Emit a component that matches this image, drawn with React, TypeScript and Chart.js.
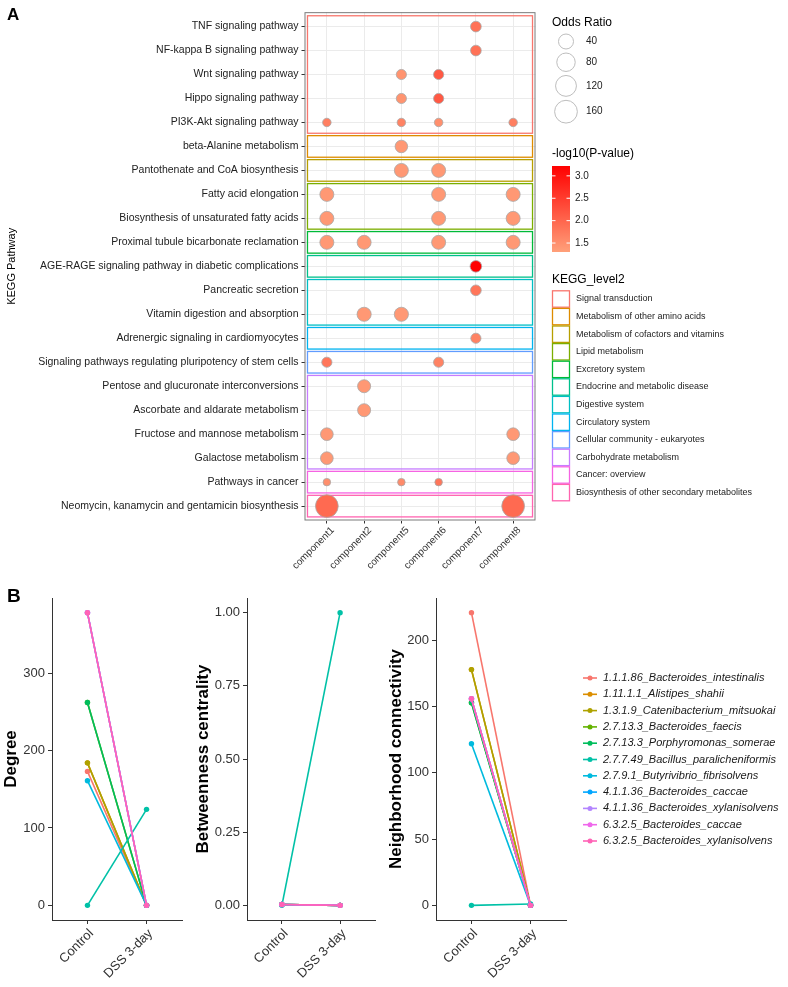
import React, { useEffect, useRef } from "react";
import { Chart, registerables } from "chart.js";
Chart.register(...registerables);

const FONT = "'Liberation Sans', Arial, Helvetica, sans-serif";
Chart.defaults.font.family = FONT;

// ---------------- Panel A data ----------------
const pathways = [
  "TNF signaling pathway",
  "NF-kappa B signaling pathway",
  "Wnt signaling pathway",
  "Hippo signaling pathway",
  "PI3K-Akt signaling pathway",
  "beta-Alanine metabolism",
  "Pantothenate and CoA biosynthesis",
  "Fatty acid elongation",
  "Biosynthesis of unsaturated fatty acids",
  "Proximal tubule bicarbonate reclamation",
  "AGE-RAGE signaling pathway in diabetic complications",
  "Pancreatic secretion",
  "Vitamin digestion and absorption",
  "Adrenergic signaling in cardiomyocytes",
  "Signaling pathways regulating pluripotency of stem cells",
  "Pentose and glucuronate interconversions",
  "Ascorbate and aldarate metabolism",
  "Fructose and mannose metabolism",
  "Galactose metabolism",
  "Pathways in cancer",
  "Neomycin, kanamycin and gentamicin biosynthesis",
];
const components = ["component1", "component2", "component5", "component6", "component7", "component8"];
const keggLevels = [
  "Signal transduction",
  "Metabolism of other amino acids",
  "Metabolism of cofactors and vitamins",
  "Lipid metabolism",
  "Excretory system",
  "Endocrine and metabolic disease",
  "Digestive system",
  "Circulatory system",
  "Cellular community - eukaryotes",
  "Carbohydrate metabolism",
  "Cancer: overview",
  "Biosynthesis of other secondary metabolites",
];
const keggLevelColors = [
  "#F8766D", "#DE8C00", "#B79F00", "#7CAE00", "#00BA38", "#00C08B",
  "#00BFC4", "#00B4F0", "#619CFF", "#C77CFF", "#F564E3", "#FF64B0",
];
const pathwayLevel = [0, 0, 0, 0, 0, 1, 2, 3, 3, 4, 5, 6, 6, 7, 8, 9, 9, 9, 9, 10, 11];

const dotPathway = [0, 1, 2, 2, 3, 3, 4, 4, 4, 4, 5, 6, 6, 7, 7, 7, 8, 8, 8, 9, 9, 9, 9, 10, 11, 12, 12, 13, 14, 14, 15, 16, 17, 17, 18, 18, 19, 19, 19, 20, 20];
const dotComponent = [4, 4, 2, 3, 2, 3, 0, 2, 3, 5, 2, 2, 3, 0, 3, 5, 0, 3, 5, 0, 1, 3, 5, 4, 4, 1, 2, 4, 0, 3, 1, 1, 0, 5, 0, 5, 0, 2, 3, 0, 5];
const dotOddsRatio = [13, 13, 11, 11, 11, 11, 6, 6, 6, 6, 22, 32, 32, 32, 32, 32, 32, 32, 32, 32, 32, 32, 32, 17, 13, 33, 33, 11, 11, 11, 25, 25, 23, 23, 23, 23, 4, 4, 4, 160, 160];
const dotLogP = [1.85, 1.85, 1.45, 2.15, 1.45, 2.15, 1.7, 1.65, 1.5, 1.7, 1.4, 1.4, 1.4, 1.4, 1.4, 1.4, 1.4, 1.4, 1.4, 1.4, 1.4, 1.4, 1.4, 3.22, 1.8, 1.4, 1.4, 1.65, 1.8, 1.65, 1.4, 1.4, 1.4, 1.4, 1.4, 1.4, 1.5, 1.55, 1.8, 1.95, 1.95];

const oddsLegendValues = [40, 80, 120, 160];
const pLegendTicks = [1.5, 2.0, 2.5, 3.0];
const pScaleMin = 1.3;
const pScaleMax = 3.22;

// ---------------- Panel B data ----------------
const groups = ["Control", "DSS 3-day"];
const species = [
  "1.1.1.86_Bacteroides_intestinalis",
  "1.11.1.1_Alistipes_shahii",
  "1.3.1.9_Catenibacterium_mitsuokai",
  "2.7.13.3_Bacteroides_faecis",
  "2.7.13.3_Porphyromonas_somerae",
  "2.7.7.49_Bacillus_paralicheniformis",
  "2.7.9.1_Butyrivibrio_fibrisolvens",
  "4.1.1.36_Bacteroides_caccae",
  "4.1.1.36_Bacteroides_xylanisolvens",
  "6.3.2.5_Bacteroides_caccae",
  "6.3.2.5_Bacteroides_xylanisolvens",
];
const speciesColors = [
  "#F8766D", "#DB8E00", "#AEA200", "#64B200", "#00BD5C", "#00C1A7",
  "#00BADE", "#00A6FF", "#B385FF", "#EF67EB", "#FF63B6",
];
const degreeControl = [173, 184, 184, 262, 262, 0, 161, 378, 378, 378, 378];
const degreeDSS = [0, 0, 0, 0, 0, 124, 0, 0, 0, 0, 0];
const betweenControl = [0.003, 0.003, 0.003, 0.003, 0.003, 0, 0.003, 0.003, 0.003, 0.003, 0.003];
const betweenDSS = [0, 0, 0, 0, 0, 1, 0, 0, 0, 0, 0];
const nbrControl = [221, 178, 178, 153, 153, 0, 122, 156, 156, 156, 156];
const nbrDSS = [0, 0, 0, 0, 0, 1, 0, 0, 0, 0, 0];
const degreeTicks = [0, 100, 200, 300];
const betweenTicks = [0, 0.25, 0.5, 0.75, 1];
const nbrTicks = [0, 50, 100, 150, 200];

// ---------------- helpers ----------------
const LOW_RGB = [255, 160, 122];
const HIGH_RGB = [255, 0, 0];
function pColor(v: number) {
  const t = Math.max(0, Math.min(1, (v - pScaleMin) / (pScaleMax - pScaleMin)));
  const c = LOW_RGB.map((l, k) => Math.round(l + (HIGH_RGB[k] - l) * t));
  return `rgb(${c[0]},${c[1]},${c[2]})`;
}
function orRadius(or: number) {
  return 7.5 * Math.pow(or / 40, 0.3);
}

const boxesPlugin = {
  id: "keggBoxes",
  beforeDatasetsDraw(chart: any) {
    const { ctx, scales } = chart;
    const xs = scales.x, ys = scales.y;
    ctx.save();
    keggLevels.forEach((_, l) => {
      const rows = pathwayLevel.map((lv, i) => (lv === l ? i : -1)).filter((i) => i >= 0);
      const r0 = Math.min(...rows), r1 = Math.max(...rows);
      const x0 = xs.getPixelForValue(-0.52), x1 = xs.getPixelForValue(5.52);
      const y0 = ys.getPixelForValue(r0 - 0.45), y1 = ys.getPixelForValue(r1 + 0.45);
      ctx.strokeStyle = keggLevelColors[l];
      ctx.lineWidth = 1.3;
      ctx.strokeRect(x0, y0, x1 - x0, y1 - y0);
    });
    ctx.restore();
  },
  afterDraw(chart: any) {
    const { ctx, chartArea } = chart;
    ctx.save();
    ctx.strokeStyle = "#7a7a7a";
    ctx.lineWidth = 1;
    ctx.strokeRect(chartArea.left + 0.5, chartArea.top + 0.5, chartArea.right - chartArea.left - 1, chartArea.bottom - chartArea.top - 1);
    ctx.fillStyle = "#000";
    ctx.font = `bold 17px ${FONT}`;
    ctx.textAlign = "left";
    ctx.textBaseline = "alphabetic";
    ctx.fillText("A", 7, 20);
    ctx.restore();
  },
};

const legendAPlugin = {
  id: "legendA",
  afterDraw(chart: any) {
    const ctx = chart.ctx;
    ctx.save();
    ctx.textAlign = "left";
    ctx.fillStyle = "#000";
    ctx.font = `12px ${FONT}`;
    ctx.textBaseline = "alphabetic";
    ctx.fillText("Odds Ratio", 552, 26);
    let y = 32;
    oddsLegendValues.forEach((v) => {
      const r = orRadius(v);
      const h = 2 * r + 4;
      const cy = y + h / 2;
      ctx.beginPath();
      ctx.arc(566, cy, r, 0, Math.PI * 2);
      ctx.strokeStyle = "#BDBDBD";
      ctx.lineWidth = 1;
      ctx.stroke();
      ctx.fillStyle = "#222";
      ctx.font = `10px ${FONT}`;
      ctx.textBaseline = "middle";
      ctx.fillText(String(v), 586, cy);
      y += h;
    });
    ctx.fillStyle = "#000";
    ctx.font = `12px ${FONT}`;
    ctx.textBaseline = "alphabetic";
    ctx.fillText("-log10(P-value)", 552, 157);
    const barTop = 166, barBot = 252, bx0 = 552, bx1 = 570;
    const g = ctx.createLinearGradient(0, barBot, 0, barTop);
    for (let k = 0; k <= 10; k++) {
      g.addColorStop(k / 10, pColor(pScaleMin + (pScaleMax - pScaleMin) * (k / 10)));
    }
    ctx.fillStyle = g;
    ctx.fillRect(bx0, barTop, bx1 - bx0, barBot - barTop);
    pLegendTicks.forEach((v) => {
      const py = barBot - ((v - pScaleMin) / (pScaleMax - pScaleMin)) * (barBot - barTop);
      ctx.strokeStyle = "#fff";
      ctx.lineWidth = 1;
      ctx.beginPath();
      ctx.moveTo(bx0, py); ctx.lineTo(bx0 + 3.5, py);
      ctx.moveTo(bx1 - 3.5, py); ctx.lineTo(bx1, py);
      ctx.stroke();
      ctx.fillStyle = "#222";
      ctx.font = `10px ${FONT}`;
      ctx.textBaseline = "middle";
      ctx.fillText(v.toFixed(1), 575, py);
    });
    ctx.fillStyle = "#000";
    ctx.font = `12px ${FONT}`;
    ctx.textBaseline = "alphabetic";
    ctx.fillText("KEGG_level2", 552, 283);
    keggLevels.forEach((name, i) => {
      const cy = 299 + i * 17.6;
      ctx.fillStyle = "#fff";
      ctx.fillRect(552.5, cy - 8.2, 17, 16.4);
      ctx.strokeStyle = keggLevelColors[i];
      ctx.lineWidth = 1.3;
      ctx.strokeRect(552.5, cy - 8.2, 17, 16.4);
      ctx.fillStyle = "#222";
      ctx.font = `9px ${FONT}`;
      ctx.textBaseline = "middle";
      ctx.fillText(name, 576, cy);
    });
    ctx.restore();
  },
};

const letterBPlugin = {
  id: "letterB",
  afterDraw(chart: any) {
    const ctx = chart.ctx;
    ctx.save();
    ctx.fillStyle = "#000";
    ctx.font = `bold 19px ${FONT}`;
    ctx.textAlign = "left";
    ctx.textBaseline = "alphabetic";
    ctx.fillText("B", 7, 17);
    ctx.restore();
  },
};

const legendBPlugin = {
  id: "legendB",
  afterDraw(chart: any) {
    const ctx = chart.ctx;
    ctx.save();
    species.forEach((name, i) => {
      const cy = 93 + i * 16.3;
      ctx.strokeStyle = speciesColors[i];
      ctx.lineWidth = 1.6;
      ctx.beginPath();
      ctx.moveTo(203, cy); ctx.lineTo(217, cy);
      ctx.stroke();
      ctx.fillStyle = speciesColors[i];
      ctx.beginPath();
      ctx.arc(210, cy, 2.5, 0, Math.PI * 2);
      ctx.fill();
      ctx.fillStyle = "#1a1a1a";
      ctx.font = `italic 11px ${FONT}`;
      ctx.textAlign = "left";
      ctx.textBaseline = "middle";
      ctx.fillText(name, 223, cy);
    });
    ctx.restore();
  },
};

function makeLineConfig(
  control: number[], dss: number[], ticks: number[], title: string,
  fmt: (v: number) => string, pad: any, yWidth: number, xHeight: number, titleTop: number, plugins: any[]
) {
  const all = [...control, ...dss];
  const lo = Math.min(...all), hi = Math.max(...all);
  const span = hi - lo;
  return {
    type: "scatter",
    data: {
      datasets: species.map((name, i) => ({
        label: name,
        data: [{ x: 0, y: control[i] }, { x: 1, y: dss[i] }],
        showLine: true,
        borderColor: speciesColors[i],
        backgroundColor: speciesColors[i],
        pointBackgroundColor: speciesColors[i],
        pointBorderWidth: 0,
        pointRadius: 2.7,
        borderWidth: 1.6,
        order: species.length - 1 - i,
      })),
    },
    options: {
      animation: false,
      responsive: false,
      events: [],
      layout: { padding: pad },
      plugins: { legend: { display: false }, tooltip: { enabled: false } },
      scales: {
        x: {
          type: "linear", min: -0.6, max: 1.6,
          afterBuildTicks: (s: any) => { s.ticks = groups.map((_, i) => ({ value: i })); },
          afterFit: (s: any) => { s.height = xHeight; s.paddingLeft = 0; s.paddingRight = 0; },
          ticks: {
            callback: (v: any) => groups[v] ?? "", minRotation: 45, maxRotation: 45, autoSkip: false,
            font: { size: 13 }, color: "#333", padding: 2, labelOffset: 4,
          },
          grid: { drawOnChartArea: false, drawTicks: true, tickLength: 4, tickColor: "#333", tickWidth: 1 },
          border: { display: true, color: "#333", width: 1 },
        },
        y: {
          type: "linear", min: lo - 0.05 * span, max: hi + 0.05 * span,
          afterBuildTicks: (s: any) => { s.ticks = ticks.map((v) => ({ value: v })); },
          afterFit: (s: any) => { s.width = yWidth; s.paddingTop = 0; s.paddingBottom = 0; },
          ticks: { callback: (v: any) => fmt(v), font: { size: 13 }, color: "#333", padding: 3, autoSkip: false },
          grid: { drawOnChartArea: false, drawTicks: true, tickLength: 4, tickColor: "#333", tickWidth: 1 },
          border: { display: true, color: "#333", width: 1 },
          title: {
            display: true, text: title, color: "#000",
            font: { size: 17, weight: "bold" }, padding: { top: titleTop, bottom: 0 },
          },
        },
      },
    },
    plugins,
  } as any;
}

export default function App() {
  const refA = useRef<HTMLCanvasElement>(null);
  const refD = useRef<HTMLCanvasElement>(null);
  const refBt = useRef<HTMLCanvasElement>(null);
  const refN = useRef<HTMLCanvasElement>(null);

  useEffect(() => {
    const charts: Chart[] = [];
    const chartA = new Chart(refA.current!, {
      type: "bubble",
      data: {
        datasets: [{
          data: dotPathway.map((p, i) => ({ x: dotComponent[i], y: p, r: orRadius(dotOddsRatio[i]) })),
          backgroundColor: dotLogP.map(pColor),
          borderColor: "#A8A8A8",
          borderWidth: 0.8,
        }],
      },
      options: {
        animation: false,
        responsive: false,
        events: [],
        layout: { padding: { left: 0, top: 2.5, right: 252.5, bottom: 0 } },
        plugins: { legend: { display: false }, tooltip: { enabled: false } },
        scales: {
          x: {
            type: "linear", position: "bottom", min: -0.6, max: 5.6,
            afterBuildTicks: (s: any) => { s.ticks = components.map((_, i) => ({ value: i })); },
            afterFit: (s: any) => { s.height = 64.5; s.paddingLeft = 0; s.paddingRight = 0; },
            ticks: {
              callback: (v: any) => components[v] ?? "", minRotation: 45, maxRotation: 45, autoSkip: false,
              font: { size: 10 }, color: "#333", padding: 1, labelOffset: 6,
            },
            grid: { color: "#EBEBEB", drawTicks: true, tickLength: 3, tickColor: "#333", lineWidth: 1 },
            border: { display: false },
          },
          y: {
            type: "linear", position: "left", reverse: true, min: -0.6, max: 20.6,
            afterBuildTicks: (s: any) => { s.ticks = pathways.map((_, i) => ({ value: i })); },
            afterFit: (s: any) => { s.width = 304.5; s.paddingTop = 0; s.paddingBottom = 0; },
            ticks: { callback: (v: any) => pathways[v] ?? "", font: { size: 10.5 }, color: "#222", padding: 3, autoSkip: false },
            grid: { color: "#EBEBEB", drawTicks: true, tickLength: 3, tickColor: "#333", lineWidth: 1 },
            border: { display: false },
            title: { display: true, text: "KEGG Pathway", color: "#000", font: { size: 11 }, padding: { top: 5, bottom: 0 } },
          },
        },
      } as any,
      plugins: [boxesPlugin, legendAPlugin],
    });
    charts.push(chartA);

    charts.push(new Chart(refD.current!, makeLineConfig(
      degreeControl, degreeDSS, degreeTicks, "Degree", (v) => String(v),
      { left: 0, top: 13, right: 8, bottom: 0 }, 52, 67, 1, [letterBPlugin]
    )));
    charts.push(new Chart(refBt.current!, makeLineConfig(
      betweenControl, betweenDSS, betweenTicks, "Betweenness centrality", (v) => Number(v).toFixed(2),
      { left: 0, top: 13, right: 5, bottom: 0 }, 57, 67, 3, []
    )));
    charts.push(new Chart(refN.current!, makeLineConfig(
      nbrControl, nbrDSS, nbrTicks, "Neighborhood connectivity", (v) => String(v),
      { left: 0, top: 13, right: 222, bottom: 0 }, 56, 67, 6, [legendBPlugin]
    )));

    return () => charts.forEach((c) => c.destroy());
  }, []);

  const abs = (left: number, top: number): React.CSSProperties => ({ position: "absolute", left, top });
  return (
    <div style={{ position: "absolute", left: 0, top: 0, width: 788, height: 987, background: "#fff" }}>
      <canvas ref={refA} width={788} height={585} style={abs(0, 0)} />
      <canvas ref={refD} width={190} height={402} style={abs(0, 585)} />
      <canvas ref={refBt} width={190} height={402} style={abs(190, 585)} />
      <canvas ref={refN} width={408} height={402} style={abs(380, 585)} />
    </div>
  );
}
